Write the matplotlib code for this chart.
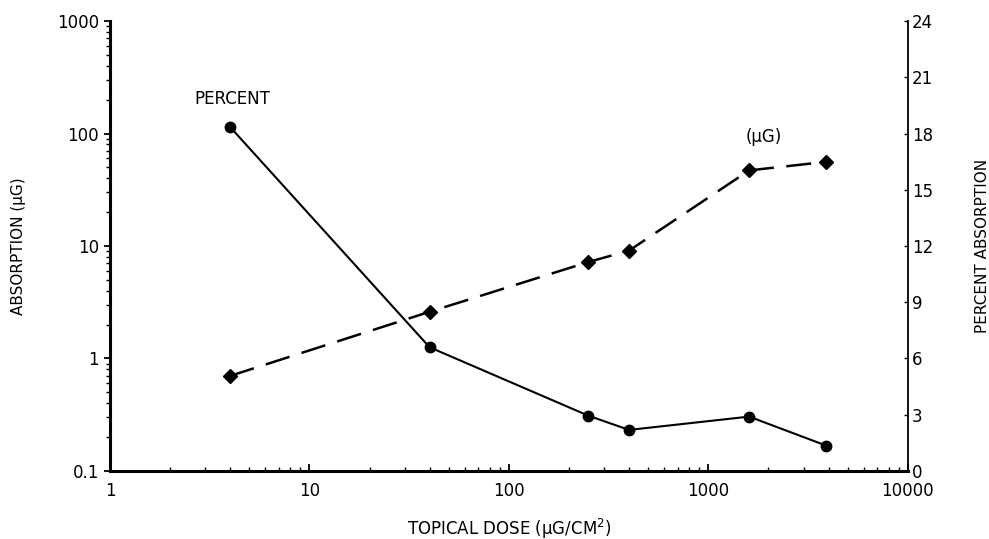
#!/usr/bin/env python3
"""Absorption vs topical dose: ug absorbed (log, left) and percent absorbed (right)."""

import matplotlib
matplotlib.use("Agg")
import matplotlib.pyplot as plt
from matplotlib.ticker import FixedLocator, NullFormatter

# --------------------------- data -------------------------------------------
dose = [4, 40, 250, 400, 1600, 3900]            # ug/cm^2
absorbed_ug = [0.70, 2.6, 7.2, 9.1, 47, 56]      # ug
percent = [18.35, 6.6, 2.95, 2.19, 2.9, 1.35]    # percent absorption

x_ticks = [1, 10, 100, 1000, 10000]
x_tick_labels = ["1", "10", "100", "1000", "10000"]
y_left_ticks = [0.1, 1, 10, 100, 1000]
y_left_labels = ["0.1", "1", "10", "100", "1000"]
y_right_ticks = [0, 3, 6, 9, 12, 15, 18, 21, 24]

plt.rcParams["font.family"] = ["DejaVu Sans"]

fig = plt.figure(figsize=(9.89, 5.39), dpi=100)
ax = fig.add_axes([0.1112, 0.1262, 0.8068, 0.8348])
ax2 = ax.twinx()

# ug absorbed, dashed with diamonds
ax.plot(dose, absorbed_ug, color="black", linestyle=(0, (10, 5)), linewidth=1.8,
        marker="D", markersize=7, zorder=3)
ax.set_xscale("log")
ax.set_yscale("log")
ax.set_xlim(1, 10000)
ax.set_ylim(0.1, 1000)

# percent absorption, solid with circles
ax2.plot(dose, percent, color="black", linestyle="-", linewidth=1.5,
         marker="o", markersize=7.5, zorder=3)
ax2.set_ylim(0, 24)

# ------------------------------ styling -------------------------------------
for a in (ax, ax2):
    a.spines["top"].set_visible(False)
ax.spines["left"].set_linewidth(2.2)
ax.spines["bottom"].set_linewidth(2.2)
ax.spines["right"].set_visible(False)
ax2.spines["left"].set_visible(False)
ax2.spines["bottom"].set_visible(False)
ax2.spines["right"].set_linewidth(1.3)

ax.xaxis.set_major_locator(FixedLocator(x_ticks))
ax.set_xticklabels(x_tick_labels)
ax.xaxis.set_minor_formatter(NullFormatter())
ax.tick_params(axis="x", which="major", direction="in", length=5, width=1.3,
               labelsize=12, pad=8)
ax.tick_params(axis="x", which="minor", direction="in", length=3, width=1.0)

ax.yaxis.set_major_locator(FixedLocator(y_left_ticks))
ax.set_yticklabels(y_left_labels)
ax.yaxis.set_minor_formatter(NullFormatter())
ax.tick_params(axis="y", which="major", direction="out", length=4, width=1.3,
               labelsize=12, pad=4)
ax.tick_params(axis="y", which="minor", direction="out", length=3, width=1.0)

ax2.yaxis.set_major_locator(FixedLocator(y_right_ticks))
ax2.tick_params(axis="y", which="major", direction="in", length=3, width=1.0,
                labelsize=12, pad=3)

ax.set_xlabel("TOPICAL DOSE (\u00b5G/CM$^2$)", fontsize=12, labelpad=12)
ax.set_ylabel("ABSORPTION (\u00b5G)", fontsize=11, labelpad=22)
ax2.set_ylabel("PERCENT ABSORPTION", fontsize=11, labelpad=30)

ax.text(4.1, 170, "PERCENT", fontsize=12, ha="center", va="bottom")
ax.text(1900, 78, "(\u00b5G)", fontsize=12, ha="center", va="bottom")

fig.savefig("out.png", dpi=100)
